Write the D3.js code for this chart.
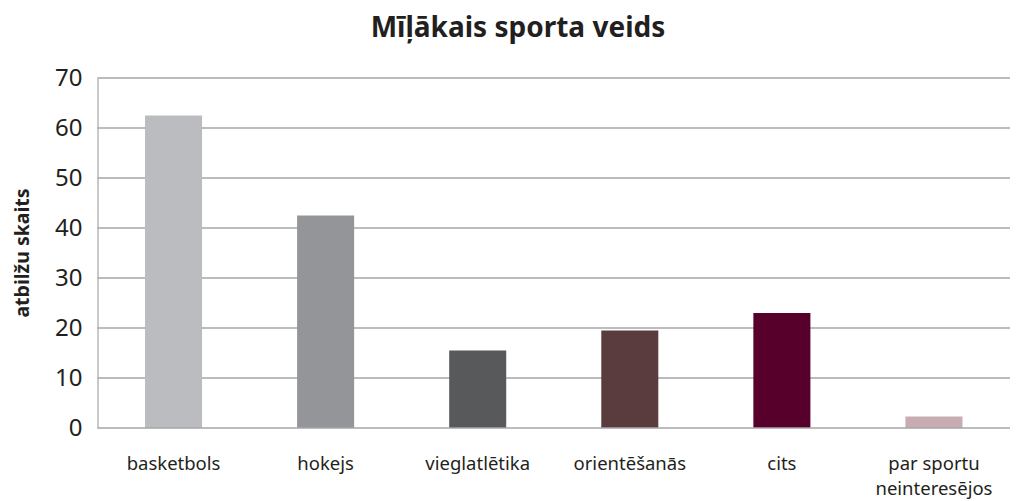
<!DOCTYPE html>
<html>
<head>
<meta charset="utf-8">
<script src="https://cdn.jsdelivr.net/npm/d3@7"></script>
<style>
  body { margin: 0; background: #fff; }
  svg { display: block; font-family: "Noto Sans", "Open Sans", sans-serif; }
</style>
</head>
<body>
<svg id="chart"></svg>
<script>
// Chart data
const categories = ["basketbols", "hokejs", "vieglatlētika", "orientēšanās", "cits", "par sportu neinteresējos"];
const values = [62.5, 42.5, 15.5, 19.5, 23, 2.3];
const barColors = ["#bbbcbf", "#949598", "#58595b", "#5b3c3e", "#56002b", "#c8acb1"];
const yTicks = [0, 10, 20, 30, 40, 50, 60, 70];

const chartTitle = "Mīļākais sporta veids";
const yTitle = "atbilžu skaits";

document.addEventListener('DOMContentLoaded', function () {
    drawChart('chart');
});

function drawChart(id) {
    const svgWidth = 1022;
    const svgHeight = 501;
    const margin = { top: 78, right: 12, bottom: 73, left: 97.5 };
    const width = svgWidth - margin.left - margin.right;
    const height = svgHeight - margin.top - margin.bottom;

    const root = d3.select(`#${id}`)
        .attr("width", svgWidth)
        .attr("height", svgHeight);

    const svg = root.append("g")
        .attr("transform", `translate(${margin.left},${margin.top})`);

    const x = d3.scaleBand()
        .domain(categories)
        .range([0, width])
        .paddingInner(0.625)
        .paddingOuter(0.3125);

    const y = d3.scaleLinear()
        .domain([0, 70])
        .range([height, 0]);

    // Horizontal grid lines
    svg.append("g")
        .selectAll("line")
        .data(yTicks.filter(d => d > 0))
        .join("line")
        .attr("x1", 0)
        .attr("x2", width)
        .attr("y1", d => y(d))
        .attr("y2", d => y(d))
        .attr("stroke", "#a6a6a8")
        .attr("stroke-width", 1.6);

    // Bars
    svg.append("g")
        .selectAll("rect")
        .data(values)
        .join("rect")
        .attr("x", (d, i) => x(categories[i]))
        .attr("y", d => y(d))
        .attr("width", x.bandwidth())
        .attr("height", d => y(0) - y(d))
        .attr("fill", (d, i) => barColors[i]);

    // Baseline
    svg.append("line")
        .attr("x1", 0)
        .attr("x2", width)
        .attr("y1", y(0))
        .attr("y2", y(0))
        .attr("stroke", "#a6a6a8")
        .attr("stroke-width", 1.6);

    // Y axis
    const yAxis = svg.append("g")
        .call(d3.axisLeft(y).tickValues(yTicks).tickSize(0).tickPadding(15));
    yAxis.select(".domain")
        .attr("stroke", "#a6a6a8")
        .attr("stroke-width", 1.2);
    yAxis.selectAll("text")
        .attr("fill", "#231f20")
        .attr("font-size", 24)
        .attr("font-family", "\"Noto Sans\", sans-serif");

    // X axis labels (wrapped)
    const xAxis = svg.append("g")
        .attr("transform", `translate(0,${height})`)
        .call(d3.axisBottom(x).tickSize(0).tickPadding(0).tickFormat(""));
    xAxis.select(".domain").remove();
    xAxis.selectAll(".tick text").remove();
    xAxis.selectAll(".tick")
        .append("text")
        .attr("fill", "#231f20")
        .attr("font-size", 18.5)
        .attr("font-family", "\"Noto Sans\", sans-serif")
        .attr("text-anchor", "middle")
        .each(function (d) {
            const words = d === "par sportu neinteresējos" ? ["par sportu", "neinteresējos"] : [d];
            d3.select(this).selectAll("tspan")
                .data(words)
                .join("tspan")
                .attr("x", 0)
                .attr("y", (w, i) => 42 + i * 24.5)
                .text(w => w);
        });

    // Y axis title
    svg.append("text")
        .attr("transform", "rotate(-90)")
        .attr("x", -(y(35)))
        .attr("y", -margin.left + 29)
        .attr("text-anchor", "middle")
        .attr("font-size", 19.5)
        .attr("font-weight", "bold")
        .attr("fill", "#231f20")
        .text(yTitle);

    // Chart title
    root.append("text")
        .attr("x", 518)
        .attr("y", 37)
        .attr("text-anchor", "middle")
        .attr("font-size", 28)
        .attr("font-weight", "bold")
        .attr("fill", "#231f20")
        .text(chartTitle);
}
</script>
</body>
</html>
